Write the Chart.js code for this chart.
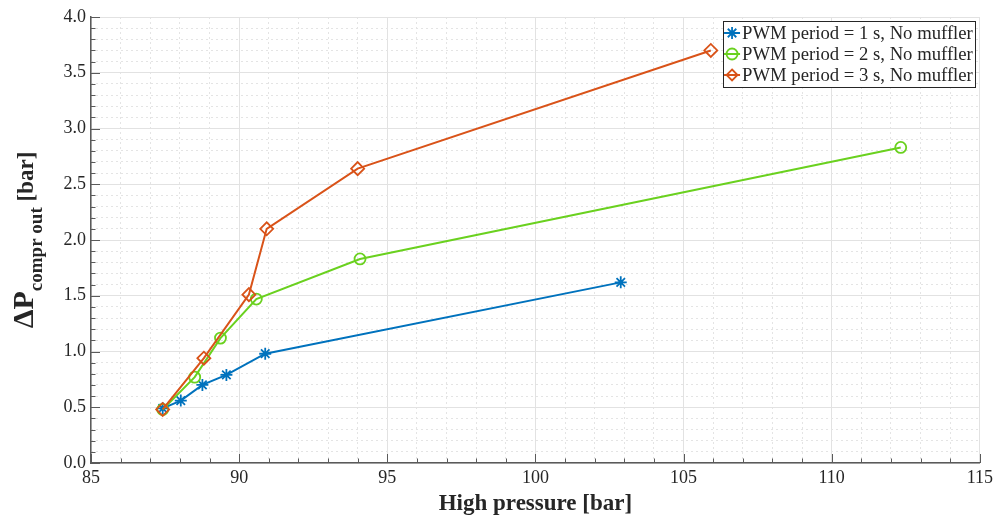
<!DOCTYPE html>
<html>
<head>
<meta charset="utf-8">
<script src="https://cdn.jsdelivr.net/npm/chart.js@4.4.0/dist/chart.umd.min.js"></script>
<style>
  html, body { margin: 0; padding: 0; background: #ffffff; }
  #wrap { width: 997px; height: 519px; position: relative; }
</style>
</head>
<body>
<div id="wrap"><canvas id="chart"></canvas></div>
<script>
// values
const pressure1s = [87.42, 88.03, 88.76, 89.57, 90.88, 102.88];
const deltaP1s   = [0.49, 0.56, 0.70, 0.79, 0.98, 1.62];

const pressure2s = [87.42, 88.50, 89.37, 90.58, 94.08, 112.33];
const deltaP2s   = [0.48, 0.77, 1.12, 1.47, 1.83, 2.83];

const pressure3s = [87.42, 88.81, 90.33, 90.93, 94.00, 105.92];
const deltaP3s   = [0.48, 0.94, 1.51, 2.10, 2.64, 3.70];

const seriesLabels = [
  'PWM period = 1 s, No muffler',
  'PWM period = 2 s, No muffler',
  'PWM period = 3 s, No muffler'
];
const seriesColors = ['#0072bd', '#6ad11f', '#d95319'];
const seriesMarkers = ['star', 'circle', 'rectRot'];

const xTickValues = [85, 90, 95, 100, 105, 110, 115];
const yTickValues = [0, 0.5, 1, 1.5, 2, 2.5, 3, 3.5, 4];
const yTickLabels = ['0.0', '0.5', '1.0', '1.5', '2.0', '2.5', '3.0', '3.5', '4.0'];

const xTitle = 'High pressure [bar]';
const yTitleMain = 'ΔP';
const yTitleSub = 'compr out';
const yTitleUnit = ' [bar]';

const FONT = '"Liberation Serif", "Times New Roman", serif';
const AXIS_COLOR = '#5a5a5a';
const TEXT_COLOR = '#262626';

Chart.defaults.font.family = FONT;
Chart.defaults.color = TEXT_COLOR;

function toPoints(xs, ys) {
  return xs.map((x, i) => ({ x, y: ys[i] }));
}

function isMultiple(v, step) {
  const r = v / step;
  return Math.abs(r - Math.round(r)) < 1e-6;
}

// y axis title with subscript, drawn rotated
const yTitlePlugin = {
  id: 'yTitle',
  afterDraw(chart) {
    const { ctx, chartArea } = chart;
    const parts = [
      { text: yTitleMain, font: 'bold 30px ' + FONT, shift: 0 },
      { text: yTitleSub, font: 'bold 19px ' + FONT, shift: 9 },
      { text: yTitleUnit, font: 'bold 23px ' + FONT, shift: 0 }
    ];
    ctx.save();
    let total = 0;
    parts.forEach(p => {
      ctx.font = p.font;
      p.w = ctx.measureText(p.text).width;
      total += p.w;
    });
    ctx.translate(33, (chartArea.top + chartArea.bottom) / 2);
    ctx.rotate(-Math.PI / 2);
    ctx.fillStyle = TEXT_COLOR;
    ctx.textBaseline = 'alphabetic';
    let x = -total / 2;
    parts.forEach(p => {
      ctx.font = p.font;
      ctx.fillText(p.text, x, p.shift);
      x += p.w;
    });
    ctx.restore();
  }
};

// inward tick marks on the left and bottom axes
const inwardTicksPlugin = {
  id: 'inwardTicks',
  beforeDatasetsDraw(chart) {
    const { ctx, chartArea, scales } = chart;
    ctx.save();
    ctx.strokeStyle = AXIS_COLOR;
    ctx.lineWidth = 1;
    ctx.beginPath();
    scales.xMinor.ticks.forEach(t => {
      const px = Math.round(scales.x.getPixelForValue(t.value)) + 0.5;
      const len = isMultiple(t.value, 5) ? 9 : 4.5;
      ctx.moveTo(px, chartArea.bottom);
      ctx.lineTo(px, chartArea.bottom - len);
    });
    scales.yMinor.ticks.forEach(t => {
      const py = Math.round(scales.y.getPixelForValue(t.value)) + 0.5;
      const len = isMultiple(t.value, 0.5) ? 9 : 4.5;
      ctx.moveTo(chartArea.left, py);
      ctx.lineTo(chartArea.left + len, py);
    });
    ctx.stroke();
    ctx.restore();
  }
};

function drawMarker(ctx, style, x, y, r) {
  ctx.beginPath();
  if (style === 'star') {
    for (let k = 0; k < 4; k++) {
      const a = k * Math.PI / 4;
      ctx.moveTo(x - r * Math.cos(a), y - r * Math.sin(a));
      ctx.lineTo(x + r * Math.cos(a), y + r * Math.sin(a));
    }
  } else if (style === 'circle') {
    ctx.arc(x, y, r, 0, Math.PI * 2);
  } else {
    ctx.moveTo(x, y - r);
    ctx.lineTo(x + r, y);
    ctx.lineTo(x, y + r);
    ctx.lineTo(x - r, y);
    ctx.closePath();
  }
  ctx.stroke();
}

// boxed legend in the upper right corner of the plot
const legendBoxPlugin = {
  id: 'legendBox',
  afterDraw(chart) {
    const { ctx, chartArea } = chart;
    ctx.save();
    ctx.font = '18.7px ' + FONT;
    const textW = Math.max(...seriesLabels.map(t => ctx.measureText(t).width));
    const rowH = 21;
    const w = textW + 21;
    const h = rowH * 3 + 3;
    const left = chartArea.right - 5 - w;
    const top = chartArea.top + 4;
    ctx.fillStyle = '#ffffff';
    ctx.fillRect(left, top, w, h);
    ctx.strokeStyle = '#262626';
    ctx.lineWidth = 1;
    ctx.strokeRect(Math.round(left) + 0.5, Math.round(top) + 0.5, Math.round(w), Math.round(h));
    seriesLabels.forEach((label, i) => {
      const cy = top + 12 + i * rowH;
      const mx = left + 9;
      ctx.strokeStyle = seriesColors[i];
      ctx.lineWidth = 2;
      ctx.beginPath();
      ctx.moveTo(left + 1, cy);
      ctx.lineTo(left + 17, cy);
      ctx.stroke();
      ctx.lineWidth = 1.8;
      drawMarker(ctx, seriesMarkers[i], mx, cy, i === 0 ? 6 : 5.5);
      ctx.fillStyle = TEXT_COLOR;
      ctx.textBaseline = 'middle';
      ctx.fillText(label, left + 19, cy + 1);
    });
    ctx.restore();
  }
};

function makeDataset(i, xs, ys, order) {
  return {
    label: seriesLabels[i],
    data: toPoints(xs, ys),
    showLine: true,
    borderColor: seriesColors[i],
    borderWidth: 2,
    tension: 0,
    pointStyle: seriesMarkers[i],
    pointRadius: i === 0 ? 6 : (i === 1 ? 5.5 : 6.5),
    pointBorderWidth: 1.8,
    pointBorderColor: seriesColors[i],
    pointBackgroundColor: 'rgba(0,0,0,0)',
    order
  };
}

new Chart(document.getElementById('chart'), {
  type: 'scatter',
  data: {
    datasets: [
      makeDataset(0, pressure1s, deltaP1s, 2),
      makeDataset(1, pressure2s, deltaP2s, 1),
      makeDataset(2, pressure3s, deltaP3s, 0)
    ]
  },
  options: {
    responsive: true,
    maintainAspectRatio: false,
    animation: false,
    layout: { padding: { top: 17, right: 15, left: 0, bottom: 0 } },
    plugins: {
      legend: { display: false },
      tooltip: { enabled: false }
    },
    scales: {
      x: {
        type: 'linear',
        position: 'bottom',
        min: 85,
        max: 115,
        afterBuildTicks: s => { s.ticks = xTickValues.map(v => ({ value: v })); },
        afterFit: s => { s.height = 56; },
        ticks: {
          font: { size: 18 },
          color: TEXT_COLOR,
          padding: 4,
          maxRotation: 0
        },
        grid: { color: '#e2e2e2', lineWidth: 1, drawTicks: false },
        border: { display: true, color: AXIS_COLOR, width: 1.5 },
        title: {
          display: true,
          text: xTitle,
          font: { size: 23, weight: 'bold' },
          color: TEXT_COLOR,
          padding: { top: 0, bottom: 1 }
        }
      },
      xMinor: {
        type: 'linear',
        position: 'bottom',
        min: 85,
        max: 115,
        afterFit: s => { s.height = 0; },
        ticks: { display: false, stepSize: 1 },
        grid: {
          drawTicks: false,
          lineWidth: 1,
          color: c => isMultiple(c.tick.value, 5) ? 'rgba(0,0,0,0)' : '#e4e4e4'
        },
        border: { display: false, dash: [2, 3] }
      },
      y: {
        type: 'linear',
        position: 'left',
        min: 0,
        max: 4,
        afterBuildTicks: s => { s.ticks = yTickValues.map(v => ({ value: v })); },
        afterFit: s => { s.width = 91; },
        ticks: {
          font: { size: 18 },
          color: TEXT_COLOR,
          padding: 5,
          callback: (v, i) => yTickLabels[i]
        },
        grid: { color: '#e2e2e2', lineWidth: 1, drawTicks: false },
        border: { display: true, color: AXIS_COLOR, width: 1.5 }
      },
      yMinor: {
        type: 'linear',
        position: 'left',
        min: 0,
        max: 4,
        afterFit: s => { s.width = 0; },
        ticks: { display: false, stepSize: 0.1 },
        grid: {
          drawTicks: false,
          lineWidth: 1,
          color: c => isMultiple(c.tick.value, 0.5) ? 'rgba(0,0,0,0)' : '#e4e4e4'
        },
        border: { display: false, dash: [2, 3] }
      }
    }
  },
  plugins: [inwardTicksPlugin, yTitlePlugin, legendBoxPlugin]
});
</script>
</body>
</html>
